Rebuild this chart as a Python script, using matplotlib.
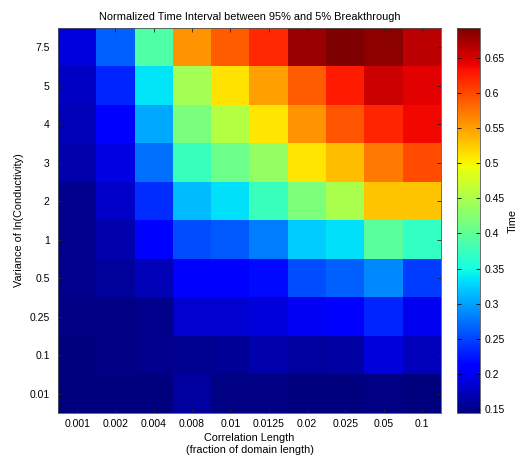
import numpy as np
import matplotlib
matplotlib.use("Agg")
import matplotlib.pyplot as plt

plt.rcParams['font.family'] = ['Liberation Sans', 'DejaVu Sans']

x_labels = ["0.001", "0.002", "0.004", "0.008", "0.01", "0.0125", "0.02", "0.025", "0.05", "0.1"]
y_labels = ["7.5", "5", "4", "3", "2", "1", "0.5", "0.25", "0.1", "0.01"]  # top to bottom

row_7_5 = [0.190, 0.265, 0.390, 0.556, 0.590, 0.620, 0.680, 0.692, 0.685, 0.665]
row_5   = [0.178, 0.232, 0.336, 0.446, 0.512, 0.550, 0.590, 0.627, 0.655, 0.644]
row_4   = [0.170, 0.213, 0.303, 0.418, 0.457, 0.510, 0.556, 0.594, 0.622, 0.638]
row_3   = [0.166, 0.193, 0.273, 0.375, 0.408, 0.435, 0.510, 0.534, 0.572, 0.600]
row_2   = [0.152, 0.180, 0.237, 0.314, 0.333, 0.375, 0.420, 0.450, 0.528, 0.528]
row_1   = [0.152, 0.166, 0.205, 0.254, 0.260, 0.281, 0.322, 0.333, 0.397, 0.370]
row_0_5 = [0.152, 0.158, 0.171, 0.205, 0.213, 0.218, 0.254, 0.265, 0.287, 0.245]
row_0_25 = [0.148, 0.148, 0.152, 0.183, 0.183, 0.187, 0.200, 0.205, 0.232, 0.199]
row_0_1 = [0.145, 0.147, 0.152, 0.153, 0.156, 0.166, 0.160, 0.162, 0.187, 0.172]
row_0_01 = [0.145, 0.145, 0.146, 0.160, 0.148, 0.147, 0.146, 0.146, 0.147, 0.146]

data = np.array([row_7_5, row_5, row_4, row_3, row_2, row_1,
                 row_0_5, row_0_25, row_0_1, row_0_01])

cbar_ticks = [0.15, 0.2, 0.25, 0.3, 0.35, 0.4, 0.45, 0.5, 0.55, 0.6, 0.65]

fig = plt.figure(figsize=(5.21, 4.58), dpi=100)
ax = fig.add_axes([58/521, 1-413/458, (441-58)/521, (413-28)/458])
cax = fig.add_axes([457/521, 1-413/458, (480-457)/521, (413-28)/458])

im = ax.imshow(data, cmap='jet', vmin=0.144, vmax=0.693, aspect='auto',
               interpolation='nearest')
ax.set_xticks(range(len(x_labels)))
ax.set_xticklabels(x_labels)
ax.set_yticks(range(len(y_labels)))
ax.set_yticklabels(y_labels)
ax.tick_params(direction='in', top=True, right=True, labelsize=7.5, length=3,
               width=0.6, color='#222222')
ax.tick_params(axis='x', pad=4)
ax.tick_params(axis='y', pad=6)
for s in ax.spines.values():
    s.set_linewidth(0.6)
    s.set_color('#555555')
ax.set_title("Normalized Time Interval between 95% and 5% Breakthrough",
             fontsize=7.9, pad=6)
ax.set_xlabel("Correlation Length\n(fraction of domain length)", fontsize=7.8,
              labelpad=3, linespacing=1.3)
ax.set_ylabel("Variance of ln(Conductivity)", fontsize=7.8, labelpad=4)

cb = fig.colorbar(im, cax=cax, ticks=cbar_ticks)
cb.ax.set_yticklabels([f"{t:g}" for t in cbar_ticks])
cb.ax.tick_params(direction='in', labelsize=7.5, length=3, width=0.6, left=True, right=True)
cb.outline.set_linewidth(0.6)
cb.outline.set_edgecolor('#555555')
cb.set_label("Time", fontsize=7.8, labelpad=2)

fig.savefig("out.png", dpi=100)
